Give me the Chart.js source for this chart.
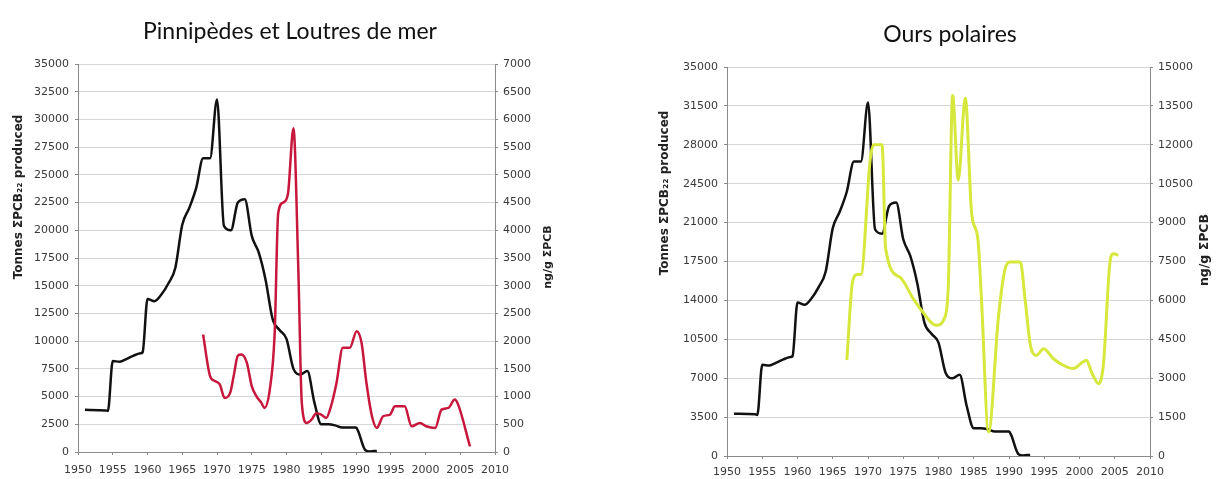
<!DOCTYPE html>
<html>
<head>
<meta charset="utf-8">
<script src="https://cdn.jsdelivr.net/npm/chart.js@4.4.1/dist/chart.umd.min.js"></script>
<style>
  html, body { margin: 0; padding: 0; background: #fff; }
  body { width: 1216px; height: 479px; position: relative; overflow: hidden; }
  .panel { position: absolute; top: 0; width: 608px; height: 479px; }
  .panel canvas { position: absolute; left: 0; top: 0; }
  .title { position: absolute; font-family: "Lato", "Open Sans", sans-serif; font-size: 23px; color: #111;
           white-space: nowrap; transform: translate(-50%, -50%); }
</style>
</head>
<body>
<div class="panel" style="left:0">
  <canvas id="pinnipedes" width="608" height="479"></canvas>
  <div class="title" style="left:290px; top:30px">Pinnipèdes et Loutres de mer</div>
</div>
<div class="panel" style="left:608px">
  <canvas id="ours" width="608" height="479"></canvas>
  <div class="title" style="left:342px; top:33px">Ours polaires</div>
</div>
<script>
// Global PCB production (tonnes), shared by both panels
const prodYears  = [1951, 1954, 1954.3, 1955, 1956, 1957, 1958, 1959, 1959.3, 1960, 1961, 1962, 1963, 1964, 1965,
                    1966, 1967, 1968, 1969, 1970, 1971, 1972, 1973, 1974, 1975, 1976, 1977, 1978, 1979,
                    1980, 1981, 1982, 1983, 1984, 1985, 1986, 1987, 1988, 1990, 1990.3, 1991.3, 1992, 1993];
const prodTonnes = [3800, 3750, 3700, 8200, 8150, 8400, 8700, 8900, 9000, 13800, 13600, 14200, 15200, 16600, 20500,
                    22000, 23800, 26500, 26500, 31800, 20400, 20000, 22500, 22800, 19500, 18000, 15500, 12000, 11000,
                    10200, 7500, 7000, 7300, 4500, 2500, 2500, 2400, 2200, 2200, 1900, 200, 50, 100];

// PCB concentration in pinnipeds and sea otters (ng/g)
const sealYears  = [1968.0, 1969.0, 1969.7, 1970.4, 1971.1, 1971.9, 1972.4, 1973.0, 1973.5, 1974.3, 1975.0, 1975.7,
                    1976.4, 1976.8, 1977.6, 1978.3, 1978.8, 1979.5, 1980.2, 1981.0, 1981.7, 1982.2, 1982.9, 1983.6,
                    1984.3, 1985.0, 1985.7, 1986.4, 1987.2, 1988.1, 1989.1, 1990.1, 1990.8, 1991.5, 1992.3, 1993.0,
                    1993.9, 1994.9, 1995.6, 1997.0, 1998.0, 1999.2, 2000.1, 2001.4, 2002.3, 2003.3, 2004.2, 2004.7, 2006.4];
const sealValues = [2120, 1370, 1280, 1220, 975, 1070, 1370, 1740, 1760, 1610, 1190, 1000,
                    885, 795, 1130, 2150, 4300, 4500, 4650, 5840, 3300, 885, 524, 584,
                    700, 675, 615, 825, 1250, 1880, 1880, 2180, 1970, 1250, 645, 434,
                    645, 675, 825, 825, 464, 524, 464, 434, 765, 795, 946, 855, 100];

// PCB concentration in polar bears (ng/g)
const bearYears  = [1967.0, 1967.8, 1968.5, 1969.0, 1970.3, 1970.8, 1972.0, 1972.5, 1974.5, 1976.4, 1977.5, 1979.7,
                    1980.9, 1981.4, 1982.0, 1982.8, 1983.8, 1984.7, 1985.6, 1986.1, 1987.1, 1988.5, 1989.4, 1990.1,
                    1991.6, 1992.3, 1993.0, 1993.9, 1994.9, 1996.3, 1997.7, 1999.1, 2001.0, 2001.7, 2002.7, 2003.4,
                    2004.3, 2004.8, 2005.5];
const bearValues = [3700, 6700, 7000, 7000, 11400, 12000, 12000, 8000, 6900, 6080, 5650, 5040,
                    5360, 6650, 13900, 10640, 13800, 9360, 8330, 6010, 925, 5360, 7160, 7480,
                    7480, 6000, 4330, 3880, 4140, 3750, 3500, 3370, 3690, 3240, 2790, 3560,
                    7420, 7800, 7740];

const yearMin = 1950, yearMax = 2010, yearStep = 5;
const tonnesTitle = 'Tonnes ΣPCB₂₂ produced';
const concTitle = 'ng/g ΣPCB';

function pairs(xs, ys) { return xs.map((x, i) => ({ x: x, y: ys[i] })); }

const tickFont = { family: '"DejaVu Sans", Verdana, sans-serif', size: 11 };
const tickColor = '#3a3a3a';
const axisGray = '#8a8a8a';

// rotated axis titles placed at fixed spots beside each axis
const sideTitles = {
  id: 'sideTitles',
  afterDraw(chart, args, opts) {
    const ctx = chart.ctx;
    (opts.items || []).forEach(it => {
      ctx.save();
      ctx.translate(it.x, it.y);
      ctx.rotate(-Math.PI / 2);
      ctx.font = 'bold ' + it.size + 'px "DejaVu Sans", Verdana, sans-serif';
      ctx.fillStyle = '#222';
      ctx.textAlign = 'center';
      ctx.textBaseline = 'middle';
      ctx.fillText(it.text, 0, 0);
      ctx.restore();
    });
  }
};

function makeChart(id, cfg) {
  return new Chart(document.getElementById(id), {
    type: 'line',
    data: {
      datasets: [
        { data: pairs(prodYears, prodTonnes), yAxisID: 'y', borderColor: '#111', borderWidth: 2.5,
          pointRadius: 0, cubicInterpolationMode: 'monotone', order: 1 },
        { data: pairs(cfg.concYears, cfg.concValues), yAxisID: 'y1', borderColor: cfg.concColor, borderWidth: cfg.concWidth,
          pointRadius: 0, cubicInterpolationMode: 'monotone', order: 0 }
      ]
    },
    options: {
      responsive: false, animation: false, devicePixelRatio: 1,
      layout: { padding: { top: cfg.top, bottom: 0, left: 0, right: 0 } },
      plugins: { legend: { display: false }, tooltip: { enabled: false }, title: { display: false },
                 sideTitles: { items: cfg.titles } },
      scales: {
        x: {
          type: 'linear', min: yearMin, max: yearMax,
          afterFit(s) { s.height = cfg.xHeight; },
          ticks: { stepSize: yearStep, font: tickFont, color: tickColor, padding: cfg.xPad, maxRotation: 0,
                   callback: v => String(v) },
          grid: { drawOnChartArea: false, drawTicks: true, tickLength: 3, tickColor: axisGray },
          border: { color: axisGray, width: 1 }
        },
        y: {
          position: 'left', min: 0, max: cfg.leftMax,
          afterFit(s) { s.width = cfg.leftWidth; },
          ticks: { stepSize: cfg.leftStep, font: tickFont, color: tickColor, padding: 6, callback: v => String(v) },
          grid: { color: '#d6d6d6', lineWidth: 1, drawTicks: true, tickLength: 3, tickColor: axisGray },
          border: { color: axisGray, width: 1 }
        },
        y1: {
          position: 'right', min: 0, max: cfg.rightMax,
          afterFit(s) { s.width = cfg.rightWidth; },
          ticks: { stepSize: cfg.rightStep, font: tickFont, color: tickColor, padding: 5, callback: v => String(v) },
          grid: { drawOnChartArea: false, drawTicks: true, tickLength: 3, tickColor: axisGray },
          border: { color: axisGray, width: 1 }
        }
      }
    },
    plugins: [sideTitles]
  });
}

makeChart('pinnipedes', {
  concYears: sealYears, concValues: sealValues, concColor: '#c8173d', concWidth: 2.5,
  top: 64, xHeight: 27, xPad: 9, leftWidth: 78, rightWidth: 113,
  leftMax: 35000, leftStep: 2500, rightMax: 7000, rightStep: 500,
  titles: [ { text: tonnesTitle, x: 19, y: 197, size: 12 },
            { text: concTitle, x: 548, y: 257, size: 11 } ]
});

makeChart('ours', {
  concYears: bearYears, concValues: bearValues, concColor: '#d6e83c', concWidth: 3,
  top: 67, xHeight: 23, xPad: 7, leftWidth: 119, rightWidth: 66,
  leftMax: 35000, leftStep: 3500, rightMax: 15000, rightStep: 1500,
  titles: [ { text: tonnesTitle, x: 57, y: 193, size: 12 },
            { text: concTitle, x: 597, y: 250, size: 12.5 } ]
});
</script>
</body>
</html>
